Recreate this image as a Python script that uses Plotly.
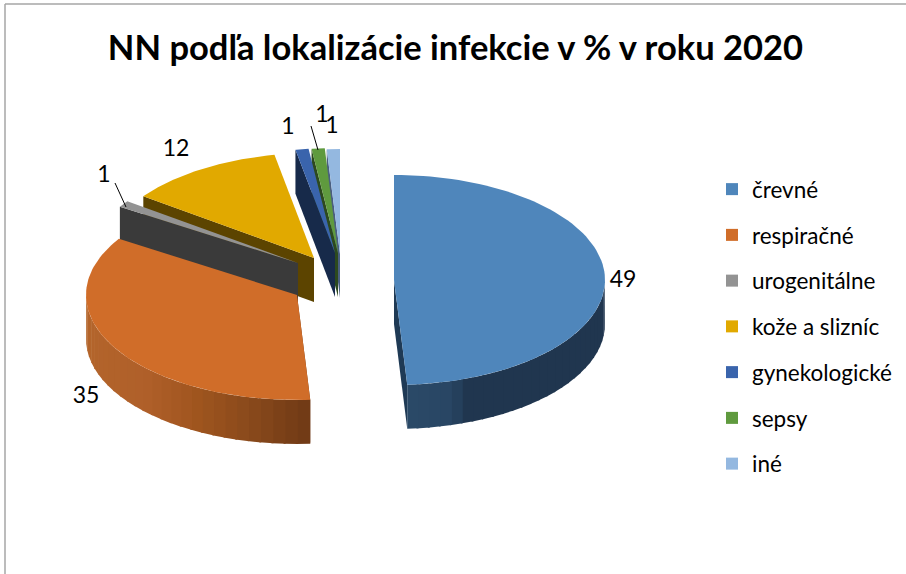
import numpy as np
import plotly.graph_objects as go

# ---- data ----
categories = ["črevné", "respiračné", "urogenitálne", "kože a slizníc", "gynekologické", "sepsy", "iné"]
values = [49, 35, 1, 12, 1, 1, 1]
title_text = "NN podľa lokalizácie infekcie v % v roku 2020"

# ---- styles and geometry (pixels) ----
top_colors = ["#4F86BB", "#D06D29", "#939393", "#E1A900", "#3A64AC", "#5F9A3E", "#94B8E0"]
side_colors = ["#1F3A55", "#6E3A16", "#3A3A3A", "#5C4400", "#172A4A", "#2D4A1E", "#4A5F80"]
apex_x = [394, 297, 298, 314, 335, 338, 340]
apex_y = [280, 295, 263, 258, 253, 253, 254]
RX, RY, DEPTH = 211, 105, 44
draw_order = [6, 5, 4, 3, 2, 1, 0]
label_x = [623, 86, 104, 176, 288, 322, 332]
label_y = [281, 397, 176, 150, 128, 116, 127]
# rim shading stops: fraction along the visible rim -> colour
rim_stops = {
    0: ([0.0, 0.82, 0.85, 1.0], ["#20364F", "#20364F", "#294664", "#2B4A68"]),
    1: ([0.0, 0.18, 0.34, 0.52, 1.0], ["#703A16", "#8A4A1C", "#A0561F", "#B0602A", "#B5672C"]),
}
FONT = "Lato, Carlito, Calibri, sans-serif"

fig = go.Figure()
total = sum(values)
edges = np.cumsum([0] + values) / total * 2 * np.pi


def arc(cx, cy, a0, a1, n=90, dy=0.0):
    t = np.linspace(a0, a1, n)
    return cx + RX * np.sin(t), cy - RY * np.cos(t) + dy


def poly(xs, ys, color):
    fig.add_trace(go.Scatter(x=list(xs), y=list(ys), mode="lines", fill="toself",
                             fillcolor=color, line=dict(width=0, color=color),
                             hoverinfo="skip", showlegend=False))


def hex2rgb(h):
    return np.array([int(h[i:i + 2], 16) for i in (1, 3, 5)], float)


def mix(stops, f):
    pos, cols = stops
    rgb = [np.interp(f, pos, [hex2rgb(c)[k] for c in cols]) for k in range(3)]
    return "rgb(%d,%d,%d)" % tuple(rgb)


for i in draw_order:
    cx, cy = apex_x[i], apex_y[i]
    a0, a1 = edges[i], edges[i + 1]
    # inner cut faces that look towards the viewer
    for a in (a0, a1):
        ex, ey = cx + RX * np.sin(a), cy - RY * np.cos(a)
        facing = (i == 0 and a == a1) or (i != 0 and a == a0)
        if facing:
            poly([cx, ex, ex, cx], [cy, ey, ey + DEPTH, cy + DEPTH], side_colors[i])
    # outer rim
    if i in rim_stops:
        lo, hi = max(a0, np.pi / 2), min(a1, 3 * np.pi / 2)
        cuts = np.linspace(lo, hi, 29)
        for k in range(len(cuts) - 1):
            # slight overlap hides the seams between strips
            s0, s1 = cuts[k], min(cuts[k + 1] + 0.01, hi)
            xa, ya = arc(cx, cy, s0, s1, 8)
            poly(np.r_[xa, xa[::-1]], np.r_[ya, ya[::-1] + DEPTH],
                 mix(rim_stops[i], (k + 0.5) / (len(cuts) - 1)))
    # top face
    xa, ya = arc(cx, cy, a0, a1)
    poly(np.r_[cx, xa, cx], np.r_[cy, ya, cy], top_colors[i])

# legend entries
for name, col in zip(categories, top_colors):
    fig.add_trace(go.Scatter(x=[None], y=[None], mode="markers", name=name, legendgroup=name,
                             marker=dict(symbol="square", size=14, color=col)))

# value labels
fig.add_trace(go.Scatter(x=label_x, y=label_y, mode="text", text=[str(v) for v in values],
                         textposition="middle center", textfont=dict(family=FONT, size=23, color="#000"),
                         hoverinfo="skip", showlegend=False))

# leader lines and chart frame
for x0, y0, x1, y1 in [(115, 183, 126, 207), (311, 126, 318, 150)]:
    fig.add_shape(type="line", x0=x0, y0=y0, x1=x1, y1=y1, line=dict(color="#000", width=1))
fig.add_shape(type="line", x0=5, y0=4, x1=906, y1=4, line=dict(color="#A6A6A6", width=1.5))
fig.add_shape(type="line", x0=5, y0=4, x1=5, y1=574, line=dict(color="#A6A6A6", width=1.5))

fig.update_layout(
    width=906, height=574, autosize=False,
    margin=dict(l=0, r=0, t=0, b=0),
    paper_bgcolor="white", plot_bgcolor="white",
    title=dict(text="<b>%s</b>" % title_text, x=455.5 / 906, xanchor="center", y=1 - 48 / 574, yanchor="middle",
               font=dict(family=FONT, size=34.5, color="#000")),
    xaxis=dict(range=[0, 906], visible=False, fixedrange=True),
    yaxis=dict(range=[574, 0], visible=False, fixedrange=True),
    legend=dict(x=712 / 906, y=1 - 168 / 574, xanchor="left", yanchor="top", tracegroupgap=13.5,
                font=dict(family=FONT, size=22.5, color="#000"), bgcolor="rgba(0,0,0,0)", itemsizing="constant"),
)
fig.write_html("out.html", post_script="document.body.style.margin='0';",
               config=dict(displayModeBar=False))
